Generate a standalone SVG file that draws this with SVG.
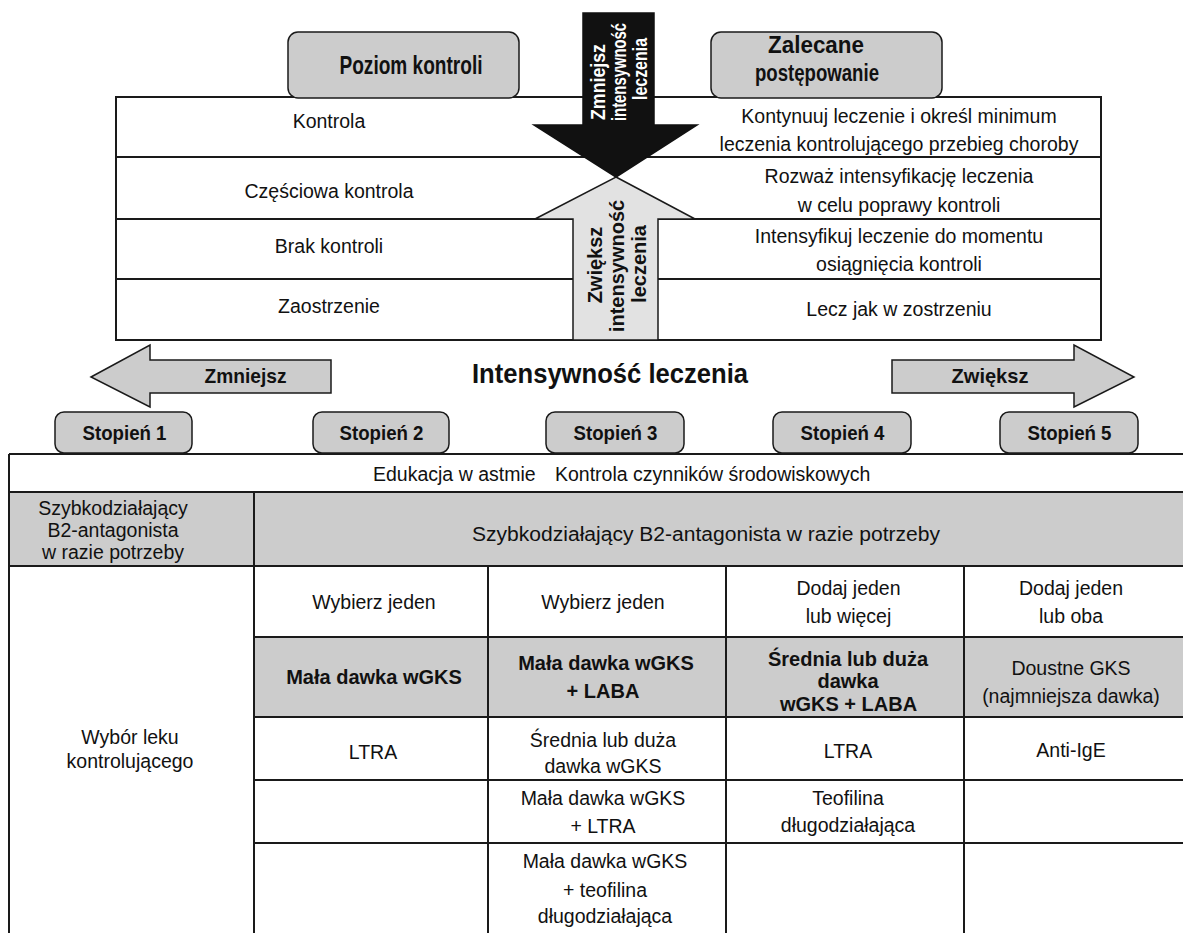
<svg xmlns="http://www.w3.org/2000/svg" width="1183" height="933" viewBox="0 0 1183 933">
<style>
.t{font-family:"Liberation Sans",Arial,sans-serif;font-size:19.5px;fill:#111;text-anchor:middle}
.b{font-weight:bold;font-size:20px}
.w{fill:#fff}
.ln{stroke:#1a1a1a;stroke-width:2;fill:none}
.box{fill:#cccccc;stroke:#1a1a1a;stroke-width:1.5}
.gr{fill:#cccccc}
</style>
<rect width="1183" height="933" fill="#fff"/>

<g id="top-table">
  <rect x="116" y="97" width="985" height="243" class="ln" fill="#fff"/>
  <line x1="116" y1="157" x2="1101" y2="157" class="ln"/>
  <line x1="116" y1="219" x2="1101" y2="219" class="ln"/>
  <line x1="116" y1="279" x2="1101" y2="279" class="ln"/>
</g>

<g id="header-poziom">
  <rect x="288" y="32" width="231" height="66" rx="10" class="box"/>
  <text class="t b" x="411" y="74" style="font-size:26px" textLength="143" lengthAdjust="spacingAndGlyphs">Poziom kontroli</text>
</g>
<g id="header-zalecane">
  <rect x="711" y="32" width="231" height="66" rx="10" class="box"/>
  <text class="t b" x="816" y="53" style="font-size:23px" textLength="96" lengthAdjust="spacingAndGlyphs">Zalecane</text>
  <text class="t b" x="817" y="81" style="font-size:23px" textLength="124" lengthAdjust="spacingAndGlyphs">postępowanie</text>
</g>

<g id="row-kontrola">
  <text class="t" x="329" y="128">Kontrola</text>
  <text class="t" x="899" y="123">Kontynuuj leczenie i określ minimum</text>
  <text class="t" x="899" y="151">leczenia kontrolującego przebieg choroby</text>
</g>
<g id="row-czesciowa">
  <text class="t" x="329" y="198">Częściowa kontrola</text>
  <text class="t" x="899" y="183">Rozważ intensyfikację leczenia</text>
  <text class="t" x="899" y="212">w celu poprawy kontroli</text>
</g>
<g id="row-brak">
  <text class="t" x="329" y="253">Brak kontroli</text>
  <text class="t" x="899" y="243">Intensyfikuj leczenie do momentu</text>
  <text class="t" x="899" y="271">osiągnięcia kontroli</text>
</g>
<g id="row-zaostrzenie">
  <text class="t" x="329" y="313">Zaostrzenie</text>
  <text class="t" x="899" y="316">Lecz jak w zostrzeniu</text>
</g>

<g id="arrow-down">
  <polygon points="583,13 654,13 654,125 697,125 616,177 534,125 583,125" fill="#111" stroke="#111" stroke-width="1.5"/>
  <text class="t b w" transform="translate(605,82) rotate(-90)" textLength="76" lengthAdjust="spacingAndGlyphs">Zmniejsz</text>
  <text class="t b w" transform="translate(626,72) rotate(-90)" textLength="98" lengthAdjust="spacingAndGlyphs">intensywność</text>
  <text class="t b w" transform="translate(647,69) rotate(-90)" textLength="62" lengthAdjust="spacingAndGlyphs">leczenia</text>
</g>
<g id="arrow-up">
  <polygon points="616,177 695,219 658,219 658,340 573,340 573,219 535,219" fill="#e2e2e2" stroke="#1a1a1a" stroke-width="1.5"/>
  <text class="t b" transform="translate(602,265) rotate(-90)">Zwiększ</text>
  <text class="t b" transform="translate(624,266) rotate(-90)">intensywność</text>
  <text class="t b" transform="translate(646,264) rotate(-90)">leczenia</text>
</g>

<g id="arrow-zmniejsz">
  <polygon points="91,377 150,345 150,360 331,360 331,393 150,393 150,407" class="box"/>
  <text class="t b" x="245.5" y="383" style="font-size:21px" textLength="82" lengthAdjust="spacingAndGlyphs">Zmniejsz</text>
</g>
<g id="title-intensywnosc">
  <text class="t b" x="610" y="383" style="font-size:28px" textLength="276" lengthAdjust="spacingAndGlyphs">Intensywność leczenia</text>
</g>
<g id="arrow-zwieksz">
  <polygon points="892,360 1074,360 1074,345 1134,377 1074,407 1074,393 892,393" class="box"/>
  <text class="t b" x="990" y="383" style="font-size:21px" textLength="77" lengthAdjust="spacingAndGlyphs">Zwiększ</text>
</g>

<g id="stopien-1"><rect x="55" y="412" width="137" height="41" rx="9" class="box"/><text class="t b" x="124.5" y="440" style="font-size:21px" textLength="84" lengthAdjust="spacingAndGlyphs">Stopień 1</text></g>
<g id="stopien-2"><rect x="313" y="412" width="136" height="41" rx="9" class="box"/><text class="t b" x="381.5" y="440" style="font-size:21px" textLength="84" lengthAdjust="spacingAndGlyphs">Stopień 2</text></g>
<g id="stopien-3"><rect x="546" y="412" width="138" height="41" rx="9" class="box"/><text class="t b" x="615.5" y="440" style="font-size:21px" textLength="84" lengthAdjust="spacingAndGlyphs">Stopień 3</text></g>
<g id="stopien-4"><rect x="773" y="412" width="138" height="41" rx="9" class="box"/><text class="t b" x="842.5" y="440" style="font-size:21px" textLength="84" lengthAdjust="spacingAndGlyphs">Stopień 4</text></g>
<g id="stopien-5"><rect x="1000" y="412" width="138" height="41" rx="9" class="box"/><text class="t b" x="1069.5" y="440" style="font-size:21px" textLength="84" lengthAdjust="spacingAndGlyphs">Stopień 5</text></g>

<g id="bottom-table">
  <rect x="9" y="492" width="1181" height="74" class="gr"/>
  <rect x="254" y="637" width="936" height="80" class="gr"/>
  <line x1="9" y1="454" x2="1190" y2="454" class="ln"/>
  <line x1="9" y1="492" x2="1190" y2="492" class="ln"/>
  <line x1="9" y1="566" x2="1190" y2="566" class="ln"/>
  <line x1="254" y1="637" x2="1190" y2="637" class="ln"/>
  <line x1="254" y1="717" x2="1190" y2="717" class="ln"/>
  <line x1="254" y1="780" x2="1190" y2="780" class="ln"/>
  <line x1="254" y1="843" x2="1190" y2="843" class="ln"/>
  <line x1="9" y1="454" x2="9" y2="940" class="ln"/>
  <line x1="254" y1="492" x2="254" y2="940" class="ln"/>
  <line x1="488" y1="566" x2="488" y2="940" class="ln"/>
  <line x1="726" y1="566" x2="726" y2="940" class="ln"/>
  <line x1="964" y1="566" x2="964" y2="940" class="ln"/>
</g>

<g id="cell-edukacja">
  <text class="t" x="373" y="481" style="text-anchor:start">Edukacja w astmie</text>
  <text class="t" x="555" y="481" style="text-anchor:start">Kontrola czynników środowiskowych</text>
</g>
<g id="cell-saba-1">
  <text class="t" x="113" y="515">Szybkodziałający</text>
  <text class="t" x="113" y="537">B2-antagonista</text>
  <text class="t" x="113" y="559">w razie potrzeby</text>
</g>
<g id="cell-saba-2">
  <text class="t" x="706" y="541" textLength="468" lengthAdjust="spacingAndGlyphs">Szybkodziałający B2-antagonista w razie potrzeby</text>
</g>
<g id="cell-wybor">
  <text class="t" x="130" y="744">Wybór leku</text>
  <text class="t" x="130" y="768">kontrolującego</text>
</g>

<g id="col-2">
  <text class="t" x="374" y="609">Wybierz jeden</text>
  <text class="t b" x="374" y="684">Mała dawka wGKS</text>
  <text class="t" x="373" y="759">LTRA</text>
</g>
<g id="col-3">
  <text class="t" x="603" y="609">Wybierz jeden</text>
  <text class="t b" x="606" y="670">Mała dawka wGKS</text>
  <text class="t b" x="603" y="698">+ LABA</text>
  <text class="t" x="603" y="747">Średnia lub duża</text>
  <text class="t" x="603" y="773">dawka wGKS</text>
  <text class="t" x="603" y="805">Mała dawka wGKS</text>
  <text class="t" x="603" y="833">+ LTRA</text>
  <text class="t" x="605" y="868">Mała dawka wGKS</text>
  <text class="t" x="605" y="897">+ teofilina</text>
  <text class="t" x="605" y="923">długodziałająca</text>
</g>
<g id="col-4">
  <text class="t" x="848.5" y="595">Dodaj jeden</text>
  <text class="t" x="848.5" y="623">lub więcej</text>
  <text class="t b" x="848" y="666">Średnia lub duża</text>
  <text class="t b" x="848" y="688">dawka</text>
  <text class="t b" x="848.5" y="711">wGKS + LABA</text>
  <text class="t" x="848" y="758">LTRA</text>
  <text class="t" x="848" y="805">Teofilina</text>
  <text class="t" x="848" y="832">długodziałająca</text>
</g>
<g id="col-5">
  <text class="t" x="1071" y="595">Dodaj jeden</text>
  <text class="t" x="1071" y="623">lub oba</text>
  <text class="t" x="1071" y="675">Doustne GKS</text>
  <text class="t" x="1071" y="703">(najmniejsza dawka)</text>
  <text class="t" x="1071" y="757">Anti-IgE</text>
</g>
</svg>
